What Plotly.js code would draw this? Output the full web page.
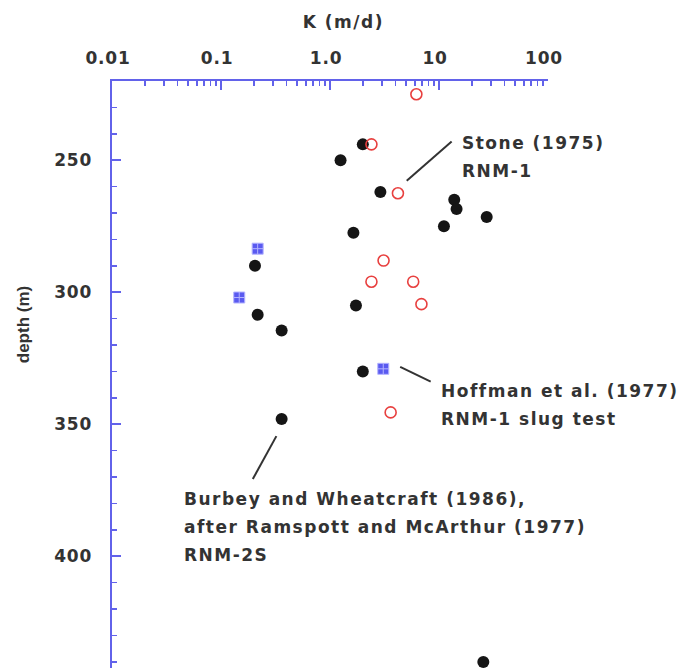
<!DOCTYPE html>
<html>
<head>
<meta charset="utf-8">
<script src="https://cdn.plot.ly/plotly-3.0.1.min.js"></script>
<style>
  html, body { margin: 0; padding: 0; background: #fff; }
  #chart { width: 680px; height: 668px; }
  /* wide, open lettering for the horizontal labels */
  #chart .annotation-text { letter-spacing: 1.5px; }
  #chart .annotation[data-index="1"] .annotation-text { letter-spacing: 0; }
  #chart .xtick text, #chart .ytick text { letter-spacing: 0.8px; }
</style>
</head>
<body>
<div id="chart"></div>
<script>
// Hydraulic conductivity K (m/d) versus depth (m)

// Stone (1975), RNM-1 — open red circles
const stoneK     = [6.2, 2.4, 4.2, 3.1, 2.4, 5.8, 6.9, 3.6];
const stoneDepth = [225, 244, 262.5, 288, 296, 296, 304.5, 345.5];

// Burbey and Wheatcraft (1986), after Ramspott and McArthur (1977), RNM-2S — filled black circles
const burbeyK     = [2.0, 1.25, 2.9, 13.8, 14.5, 27.4, 11.1, 1.64, 0.205, 1.73, 0.217, 0.36, 2.0, 0.36, 25.5];
const burbeyDepth = [244, 250, 262, 265, 268.5, 271.5, 275, 277.5, 290, 305, 308.5, 314.5, 330, 348, 440];

// Hoffman et al. (1977), RNM-1 slug test — blue squares
const hoffmanK     = [0.217, 0.147, 3.08];
const hoffmanDepth = [283.5, 302, 329];

// Axis ticks
const kTickVals  = [0.01, 0.1, 1, 10, 100];
const kTickText  = ['0.01', '0.1', '1.0', '10', '100'];
const depthTicks = [250, 300, 350, 400];

// Label lines
const stoneLines   = ['Stone (1975)', 'RNM-1'];
const hoffmanLines = ['Hoffman et al. (1977)', 'RNM-1 slug test'];
const burbeyLines  = ['Burbey and Wheatcraft (1986),', 'after Ramspott and McArthur (1977)', 'RNM-2S'];

const FONT = 'DejaVu Sans, Verdana, sans-serif';
const TEXT = '#333333';
const AXIS = '#6262ea';

// minor log ticks 2..9 in every decade
const kMinor = [];
for (let e = -2; e < 2; e++) {
  for (let m = 2; m <= 9; m++) kMinor.push(m * Math.pow(10, e));
}

const traces = [
  {
    type: 'scatter', mode: 'markers', name: 'Burbey and Wheatcraft (1986)',
    x: burbeyK, y: burbeyDepth,
    marker: { symbol: 'circle', size: 12, color: '#151515' },
    cliponaxis: false
  },
  {
    type: 'scatter', mode: 'markers', name: 'Stone (1975)',
    x: stoneK, y: stoneDepth,
    marker: { symbol: 'circle-open', size: 11, color: '#e8403f', line: { width: 1.6, color: '#e8403f' } },
    cliponaxis: false
  },
  {
    type: 'scatter', mode: 'markers', name: 'Hoffman et al. (1977)',
    x: hoffmanK, y: hoffmanDepth,
    marker: { symbol: 'square-cross', size: 11, color: '#5a5af0', line: { width: 1, color: '#b4b4ff' } },
    cliponaxis: false
  }
];

const tickFont = { family: FONT, size: 17, color: TEXT, weight: 'bold' };
const noteFont = { family: FONT, size: 17, color: TEXT, weight: 'bold' };

// one annotation per text line, stacked with a fixed line pitch (paper units)
function textBlock(lines, x, yTop, pitch) {
  return lines.map((t, i) => ({
    xref: 'paper', yref: 'paper', x: x, y: yTop - i * pitch, text: t,
    showarrow: false, font: noteFont, xanchor: 'left', yanchor: 'middle', align: 'left'
  }));
}
const PITCH = 0.0477;

const layout = {
  width: 680, height: 668,
  margin: { l: 112, r: 132, t: 81, b: 0 },
  paper_bgcolor: '#ffffff', plot_bgcolor: '#ffffff',
  showlegend: false,
  xaxis: {
    type: 'log', side: 'top', range: [-2, 2],
    showline: true, linecolor: AXIS, linewidth: 2.5,
    ticks: 'inside', ticklen: 9, tickwidth: 2, tickcolor: AXIS,
    tickmode: 'array', tickvals: kTickVals, ticktext: kTickText,
    minor: { ticks: 'inside', ticklen: 5, tickwidth: 1.5, tickcolor: AXIS, tickmode: 'array', tickvals: kMinor, showgrid: false },
    tickfont: tickFont, ticklabelstandoff: 8, ticklabelshift: -4,
    showgrid: false, zeroline: false
  },
  yaxis: {
    range: [442.3, 220],
    showline: true, linecolor: AXIS, linewidth: 2.5,
    ticks: 'inside', ticklen: 9, tickwidth: 2, tickcolor: AXIS,
    tickmode: 'array', tickvals: depthTicks,
    minor: { ticks: 'inside', ticklen: 5, tickwidth: 1.5, tickcolor: AXIS, dtick: 10, showgrid: false },
    tickfont: tickFont, ticklabelstandoff: 14,
    showgrid: false, zeroline: false
  },
  annotations: [
    { xref: 'paper', yref: 'paper', x: 0.532, y: 1.1005, text: 'K (m/d)',
      showarrow: false, font: noteFont, xanchor: 'center', yanchor: 'middle' },
    { xref: 'paper', yref: 'paper', x: -0.204, y: 0.584, text: 'depth (m)', textangle: -90,
      showarrow: false, font: { family: 'Liberation Sans, Arial, sans-serif', size: 17, color: TEXT, weight: 'bold' },
      xanchor: 'center', yanchor: 'middle' }
  ]
    .concat(textBlock(stoneLines, 0.798, 0.894, PITCH))
    .concat(textBlock(hoffmanLines, 0.751, 0.4716, PITCH))
    .concat(textBlock(burbeyLines, 0.1596, 0.2879, PITCH)),
  shapes: [
    { type: 'line', xref: 'paper', yref: 'paper', x0: 0.779, y0: 0.897, x1: 0.676, y1: 0.830, line: { color: '#333', width: 2 } },
    { type: 'line', xref: 'paper', yref: 'paper', x0: 0.661, y0: 0.513, x1: 0.731, y1: 0.488, line: { color: '#333', width: 2 } },
    { type: 'line', xref: 'paper', yref: 'paper', x0: 0.377, y0: 0.395, x1: 0.323, y1: 0.322, line: { color: '#333', width: 2 } }
  ]
};

Plotly.newPlot('chart', traces, layout, { displayModeBar: false, staticPlot: true });
</script>
</body>
</html>
